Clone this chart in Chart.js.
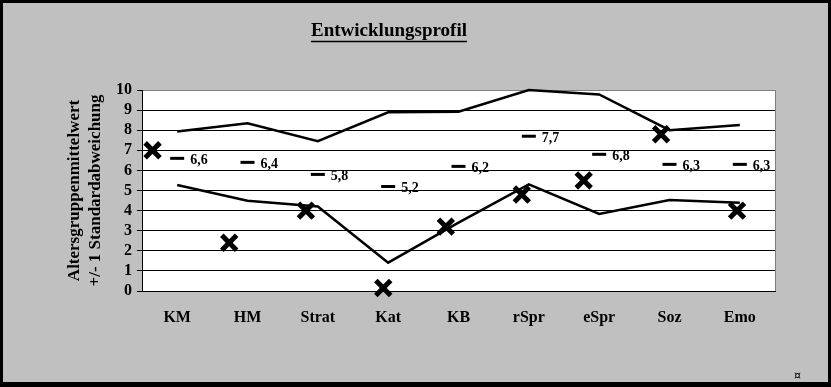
<!DOCTYPE html>
<html>
<head>
<meta charset="utf-8">
<script src="https://cdn.jsdelivr.net/npm/chart.js@4/dist/chart.umd.min.js"></script>
<style>
  html, body { margin: 0; padding: 0; background: #000; width: 831px; height: 387px; overflow: hidden; }
  #wrap { position: absolute; left: 3px; top: 3px; width: 825px; height: 379px; background: #c0c0c0; }
  #c { display: block; }
  #mark { position: absolute; left: 791px; top: 366px; font: 11px 'DejaVu Sans', sans-serif; color: #000; }
</style>
</head>
<body>
<div id="wrap">
  <canvas id="c" width="825" height="379" style="width:825px;height:379px"></canvas>
  <span id="mark">¤</span>
</div>
<script>
// ---- data ----
const categories = ['KM', 'HM', 'Strat', 'Kat', 'KB', 'rSpr', 'eSpr', 'Soz', 'Emo'];
const meanValues = [6.6, 6.4, 5.8, 5.2, 6.2, 7.7, 6.8, 6.3, 6.3];
const upperValues = [7.93, 8.34, 7.45, 8.89, 8.92, 10.0, 9.78, 8.0, 8.26];
const lowerValues = [5.27, 4.49, 4.2, 1.41, 3.4, 5.3, 3.83, 4.53, 4.39];
const childPositions = [0.65, 1.74, 2.83, 3.93, 4.82, 5.90, 6.78, 7.88, 8.96];
const childValues = [7.0, 2.4, 4.0, 0.15, 3.2, 4.8, 5.5, 7.8, 4.0];
const titleText = 'Entwicklungsprofil';
const yTitleLines = ['Altersgruppenmittelwert', '+/- 1 Standardabweichung'];

const SERIF = "'Liberation Serif', 'Times New Roman', serif";
Chart.defaults.font.family = SERIF;
Chart.defaults.color = '#000';

const atCategories = vals => vals.map((v, i) => ({ x: i + 1, y: v }));

const plotBg = {
  id: 'plotBg',
  beforeDraw(chart) {
    const a = chart.chartArea, ctx = chart.ctx;
    ctx.save();
    ctx.fillStyle = '#ffffff';
    ctx.fillRect(a.left, a.top, a.right - a.left, a.bottom - a.top);
    ctx.restore();
  },
  beforeDatasetsDraw(chart) {
    const a = chart.chartArea, ctx = chart.ctx;
    ctx.save();
    ctx.strokeStyle = '#808080';
    ctx.lineWidth = 1;
    ctx.beginPath();
    ctx.moveTo(a.right + 0.5, a.top);
    ctx.lineTo(a.right + 0.5, a.bottom);
    ctx.stroke();
    ctx.restore();
  }
};

const meanLabels = {
  id: 'meanLabels',
  afterDatasetsDraw(chart) {
    const idx = chart.data.datasets.findIndex(d => d.label === 'Mittelwert');
    const meta = chart.getDatasetMeta(idx);
    const ctx = chart.ctx;
    ctx.save();
    ctx.font = 'bold 14px ' + SERIF;
    ctx.fillStyle = '#000';
    ctx.textBaseline = 'middle';
    ctx.textAlign = 'left';
    meta.data.forEach((pt, i) => {
      const txt = meanValues[i].toFixed(1).replace('.', ',');
      ctx.fillText(txt, pt.x + 13, pt.y + 2);
    });
    ctx.restore();
  }
};

const titleUnderline = {
  id: 'titleUnderline',
  afterDraw(chart) {
    const tb = chart.titleBlock;
    if (!tb) return;
    const opts = chart.options.plugins.title;
    const size = opts.font.size;
    const ctx = chart.ctx;
    ctx.save();
    ctx.font = 'bold ' + size + 'px ' + SERIF;
    const w = ctx.measureText(titleText).width;
    const cx = (tb.left + tb.right) / 2;
    const cy = tb.top + opts.padding.top + size * 1.2 / 2;
    const uy = Math.round(cy + size * 0.52) + 0.5;
    ctx.strokeStyle = '#000';
    ctx.lineWidth = 1.5;
    ctx.beginPath();
    ctx.moveTo(cx - w / 2, uy);
    ctx.lineTo(cx + w / 2, uy);
    ctx.stroke();
    ctx.restore();
  }
};

new Chart(document.getElementById('c'), {
  type: 'line',
  data: {
    datasets: [
      {
        label: 'Kind',
        data: childValues.map((v, i) => ({ x: childPositions[i], y: v })),
        showLine: false,
        pointStyle: 'crossRot',
        pointRadius: 10.5,
        pointBorderWidth: 5,
        borderColor: '#000',
        backgroundColor: '#000',
        clip: false
      },
      {
        label: 'Mittelwert',
        data: atCategories(meanValues),
        showLine: false,
        pointStyle: 'line',
        pointRadius: 7,
        pointBorderWidth: 3,
        borderColor: '#000',
        backgroundColor: '#000'
      },
      {
        label: 'Mittelwert + 1 SD',
        data: atCategories(upperValues),
        borderColor: '#000',
        borderWidth: 2.5,
        pointRadius: 0,
        tension: 0,
        clip: 3
      },
      {
        label: 'Mittelwert - 1 SD',
        data: atCategories(lowerValues),
        borderColor: '#000',
        borderWidth: 2.5,
        pointRadius: 0,
        tension: 0,
        clip: 3
      }
    ]
  },
  options: {
    responsive: false,
    animation: false,
    events: [],
    layout: { padding: { left: 0, right: 53, top: 0, bottom: 0 } },
    plugins: {
      legend: { display: false },
      tooltip: { enabled: false },
      title: {
        display: true,
        text: titleText,
        font: { size: 19, weight: 'bold', family: SERIF },
        color: '#000',
        padding: { top: 17, bottom: 47.2 }
      }
    },
    scales: {
      x: {
        type: 'linear',
        min: 0.5,
        max: 9.5,
        afterBuildTicks: s => { s.ticks = categories.map((c, i) => ({ value: i + 1 })); },
        afterFit: s => { s.height = 91; },
        grid: { display: false, drawTicks: false },
        border: { display: true, color: '#000', width: 1 },
        ticks: {
          autoSkip: false,
          maxRotation: 0,
          padding: 17,
          font: { size: 16, weight: 'bold', family: SERIF },
          color: '#000',
          callback: v => categories[Math.round(v) - 1]
        }
      },
      y: {
        min: 0,
        max: 10,
        afterFit: s => { s.width = 139; },
        grid: {
          color: c => (c.tick && c.tick.value === 10 ? '#808080' : '#000'),
          lineWidth: 1,
          tickLength: 5,
          tickColor: '#000'
        },
        border: { display: true, color: '#000', width: 1 },
        ticks: {
          stepSize: 1,
          autoSkip: false,
          padding: 5,
          font: { size: 16, weight: 'bold', family: SERIF },
          color: '#000'
        },
        title: {
          display: true,
          text: yTitleLines,
          font: { size: 17, weight: 'bold', family: SERIF, lineHeight: 1.25 },
          color: '#000',
          padding: { top: 61, bottom: 0 }
        }
      }
    }
  },
  plugins: [plotBg, meanLabels, titleUnderline]
});
</script>
</body>
</html>
